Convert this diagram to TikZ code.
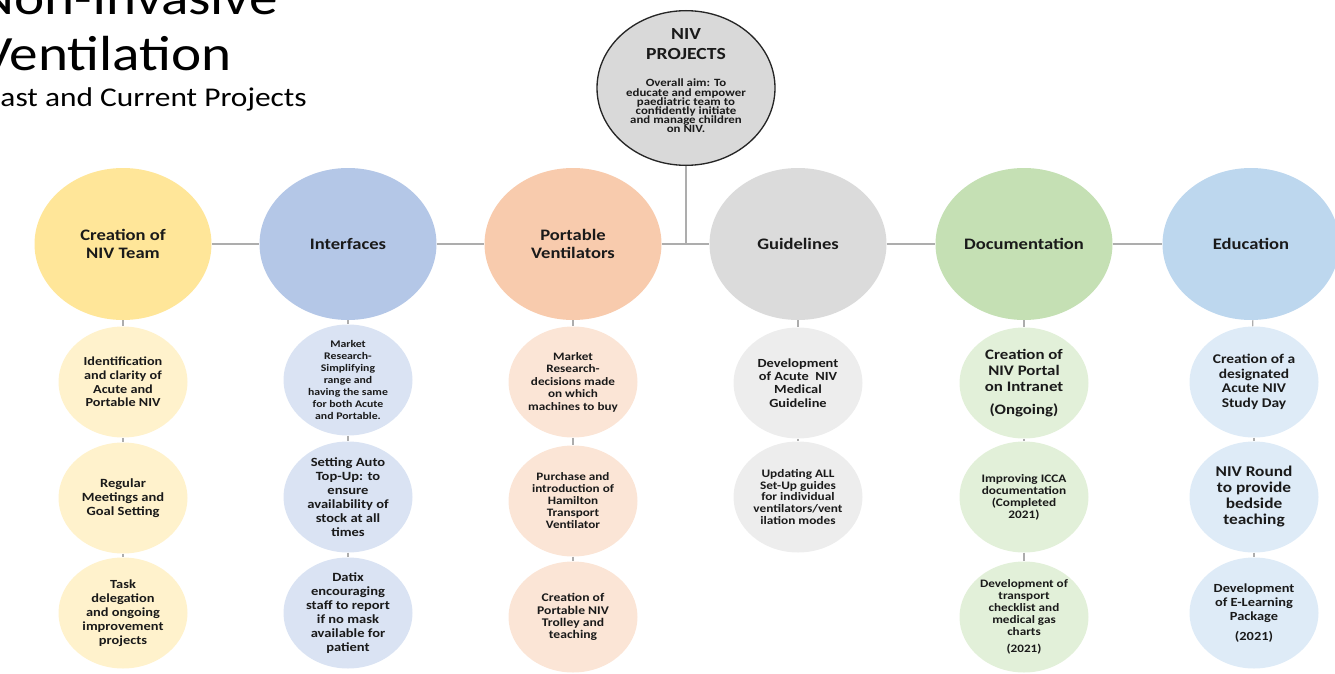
\documentclass[tikz,border=0pt]{standalone}
\usepackage{fontspec}
\setmainfont{Carlito}[FakeStretch=1.16]
\usetikzlibrary{shapes.geometric}
\definecolor{cY}{HTML}{FFE699}\definecolor{cYl}{HTML}{FFF2CC}
\definecolor{cB}{HTML}{B4C7E7}\definecolor{cBl}{HTML}{DAE3F3}
\definecolor{cO}{HTML}{F8CBAD}\definecolor{cOl}{HTML}{FBE5D6}
\definecolor{cG}{HTML}{DBDBDB}\definecolor{cGl}{HTML}{EDEDED}
\definecolor{cGr}{HTML}{C5E0B4}\definecolor{cGrl}{HTML}{E2F0D9}
\definecolor{cE}{HTML}{BDD7EE}\definecolor{cEl}{HTML}{DEEBF7}
\definecolor{cP}{HTML}{D9D9D9}
\definecolor{cLine}{HTML}{ADADAD}
\definecolor{cTxt}{HTML}{1A1A1A}
\begin{document}
\begin{tikzpicture}[x=0.75pt,y=-0.75pt,
  fs/.style 2 args={font=\bfseries\fontsize{#1}{#2}\selectfont},
  mainc/.style={ellipse, minimum width=132.75pt, minimum height=114pt, inner sep=-6pt, align=center, text=cTxt, fs={12}{13.5}},
  subc/.style={ellipse, minimum width=96.75pt, minimum height=83.25pt, inner sep=-8pt, align=center, text=cTxt, fs={9.3}{10.4}},
  projc/.style={ellipse, minimum width=133.5pt, minimum height=116pt, inner sep=-12pt, align=center, fill=cP, draw=black!85, line width=1pt, text=cTxt},
  link/.style={draw=cLine, line width=1pt},
  titletxt/.style={anchor=base east, inner sep=0pt, text=black}
]
\useasboundingbox (0,0) rectangle (1335,674);

% title
\node[titletxt, font=\fontsize{37}{41}\selectfont] (t1) at (278,15) {Non-Invasive};
\node[titletxt, font=\fontsize{37}{41}\selectfont] (t2) at (232,71) {Ventilation};
\node[titletxt, font=\fontsize{20.3}{24}\selectfont] (t3) at (307,107) {Past and Current Projects};

% main circles
\node[mainc, fill=cY]  (team) at (123,244)  {Creation of\\NIV Team};
\node[mainc, fill=cB]  (intf) at (348,244)  {Interfaces};
\node[mainc, fill=cO]  (port) at (573,244)  {Portable\\Ventilators};
\node[mainc, fill=cG]  (guid) at (798,244)  {Guidelines};
\node[mainc, fill=cGr] (docu) at (1024,244) {Documentation};
\node[mainc, fill=cE]  (educ) at (1251,244) {Education};

% projects circle
\node[projc] (proj) at (686,88) {\raisebox{6.4pt}[\height][\depth]{%
  \fontsize{12.7}{15}\selectfont\bfseries
  \begin{tabular}{@{}c@{}}NIV\\PROJECTS\\[5.25pt]
  \parbox[t]{100pt}{\centering\fontsize{8.3}{6.9}\selectfont\lineskiplimit=-\maxdimen
  Overall aim: To\\educate and empower\\paediatric team to\\confidently initiate\\and manage children\\on NIV.}
  \end{tabular}}};

% sub circles column 1
\node[subc, fill=cYl, fs={9.2}{10.3}] (s11) at (123,382) {Identification\\and clarity of\\Acute and\\Portable NIV};
\node[subc, fill=cYl, fs={9.4}{10.5}] (s12) at (123,498) {Regular\\Meetings and\\Goal Setting};
\node[subc, fill=cYl, fs={9.3}{10.5}] (s13) at (123,613) {Task\\delegation\\and ongoing\\improvement\\projects};
% column 2
\node[subc, fill=cBl, fs={7.6}{9}] (s21) at (348,380) {Market\\Research-\\Simplifying\\range and\\having the same\\for both Acute\\and Portable.};
\node[subc, fill=cBl, fs={9.4}{10.5}] (s22) at (348,497) {Setting Auto\\Top-Up: to\\ensure\\availability of\\stock at all\\times};
\node[subc, fill=cBl, fs={9.4}{10.5}] (s23) at (348,613) {Datix\\encouraging\\staff to report\\if no mask\\available for\\patient};
% column 3
\node[subc, fill=cOl, fs={8.5}{9.4}] (s31) at (573,382) {Market\\Research-\\decisions made\\on which\\machines to buy};
\node[subc, fill=cOl, fs={8.5}{9}] (s32) at (573,501) {Purchase and\\introduction of\\Hamilton\\Transport\\Ventilator};
\node[subc, fill=cOl, fs={8.8}{9.2}] (s33) at (573,617) {Creation of\\Portable NIV\\Trolley and\\teaching};
% column 4
\node[subc, fill=cGl, fs={9.3}{10}] (s41) at (798,383) {Development\\of Acute\ \ NIV\\Medical\\Guideline};
\node[subc, fill=cGl, fs={8.6}{8.85}] (s42) at (798,497) {Updating ALL\\Set-Up guides\\for individual\\ventilators/vent\\ilation modes};
% column 5
\node[subc, fill=cGrl, fs={10.9}{12}] (s51) at (1024,383) {Creation of\\NIV Portal\\on Intranet\\[5pt](Ongoing)};
\node[subc, fill=cGrl, fs={8.6}{9}] (s52) at (1024,497) {Improving ICCA\\documentation\\(Completed\\2021)};
\node[subc, fill=cGrl, fs={8.5}{9}] (s53) at (1024,617) {Development of\\transport\\checklist and\\medical gas\\charts\\[4pt](2021)};
% column 6
\node[subc, fill=cEl, fs={10}{10.9}] (s61) at (1254,382) {Creation of a\\designated\\Acute NIV\\Study Day};
\node[subc, fill=cEl, fs={11.2}{12}] (s62) at (1254,497) {NIV Round\\to provide\\bedside\\teaching};
\node[subc, fill=cEl, fs={9.3}{10.5}] (s63) at (1254,613) {Development\\of E-Learning\\Package\\[4pt](2021)};

% connectors
\coordinate (jn) at (proj.south |- port.east);
\draw[link] (team) -- (intf);
\draw[link] (intf) -- (port);
\draw[link] (port) -- (guid);
\draw[link] (guid) -- (docu);
\draw[link] (docu) -- (educ);
\draw[link] (proj) -- (jn);
\draw[link] (team) -- (s11); \draw[link] (s11) -- (s12); \draw[link] (s12) -- (s13);
\draw[link] (intf) -- (s21); \draw[link] (s21) -- (s22); \draw[link] (s22) -- (s23);
\draw[link] (port) -- (s31); \draw[link] (s31) -- (s32); \draw[link] (s32) -- (s33);
\draw[link] (guid) -- (s41); \draw[link] (s41) -- (s42);
\draw[link] (docu) -- (s51); \draw[link] (s51) -- (s52); \draw[link] (s52) -- (s53);
\draw[link] (educ) -- (s61); \draw[link] (s61) -- (s62); \draw[link] (s62) -- (s63);
\end{tikzpicture}
\end{document}
